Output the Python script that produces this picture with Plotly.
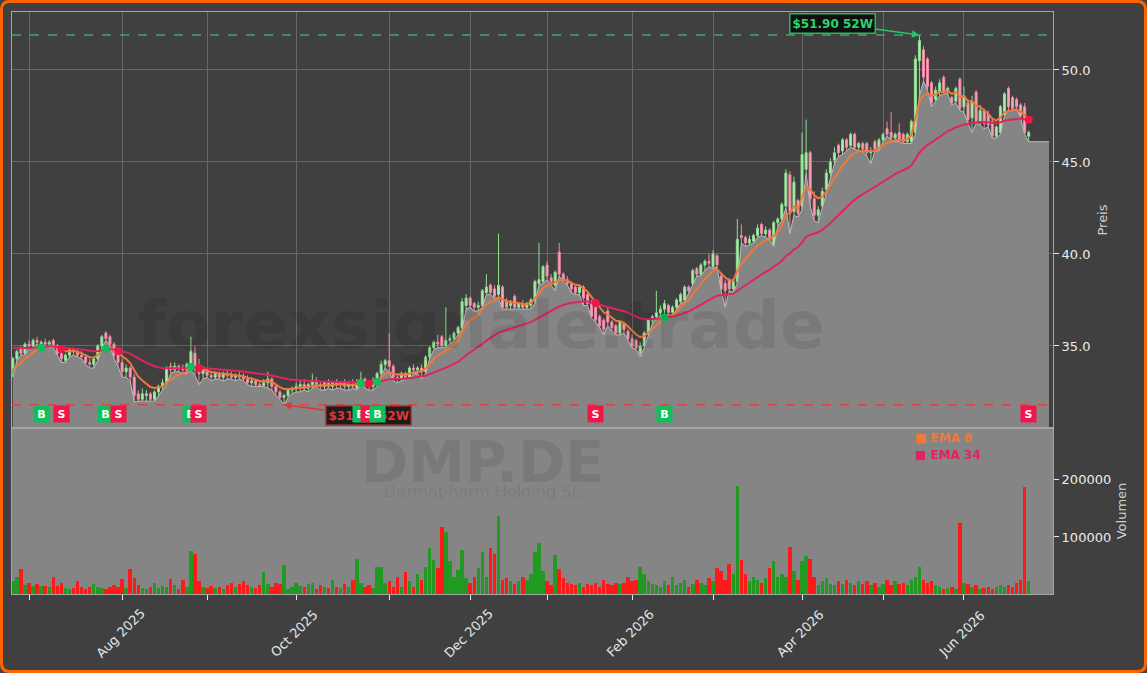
import plotly.graph_objects as go
import pandas as pd

# ---------------- data ----------------
START_DATE = "2025-06-25"
HOLIDAYS = ["2025-12-24", "2025-12-25", "2025-12-26", "2025-12-31",
            "2026-01-01", "2026-04-03", "2026-04-06", "2026-05-01"]

OPEN = [
    33.8, 34.3, 34.9, 34.6, 35.1, 35.0, 35.3, 35.0, 35.2, 35.1,
    35.3, 35.0, 34.6, 34.2, 34.5, 34.8, 34.7, 34.5, 34.4, 34.1,
    34.0, 34.3, 35.0, 35.7, 35.5, 35.1, 34.6, 34.1, 33.6, 33.8,
    33.3, 32.4, 32.1, 32.3, 32.4, 32.1, 32.5, 32.8, 33.0, 33.9,
    33.7, 33.9, 33.8, 33.7, 34.0, 34.6, 33.7, 33.5, 33.7, 33.4,
    33.3, 33.5, 33.3, 33.5, 33.4, 33.3, 33.4, 33.3, 33.2, 33.0,
    33.1, 32.9, 32.85, 33.0, 33.2, 32.8, 32.5, 32.2, 32.3, 32.6,
    32.7, 32.8, 32.9, 32.7, 32.9, 33.1, 32.9, 32.8, 33.0, 32.8,
    33.0, 32.9, 33.0, 32.8, 32.9, 32.7, 33.0, 33.2, 32.9, 32.8,
    33.0, 33.5, 34.0, 34.2, 33.9, 33.3, 33.2, 33.5, 33.3, 33.8,
    33.7, 33.8, 33.6, 34.4, 34.9, 35.2, 35.5, 35.0, 35.3, 35.4,
    35.7, 36.0, 37.2, 37.6, 37.3, 37.1, 37.2, 37.9, 38.3, 38.1,
    37.8, 38.2, 37.4, 37.2, 37.7, 37.1, 37.3, 37.1, 37.2, 37.5,
    38.4, 38.5, 39.4, 38.7, 38.3, 40.1, 38.9, 38.6, 38.4, 38.2,
    37.9, 38.2, 37.8, 37.3, 37.1, 36.6, 36.4, 36.9, 36.3, 36.1,
    35.7, 36.2, 35.8, 35.4, 35.3, 34.6, 35.0, 35.7, 36.4, 36.6,
    36.8, 37.0, 37.2, 36.8, 37.1, 37.4, 37.5, 38.2, 38.4, 39.2,
    38.9, 39.4, 39.6, 39.3, 39.9, 38.8, 38.4, 38.6, 38.1, 38.5,
    41.0, 40.9, 40.6, 40.7, 41.0, 41.6, 41.1, 41.3, 40.5, 41.7,
    41.9, 42.6, 44.3, 42.3, 42.9, 42.6, 44.6, 45.5, 43.0, 42.1,
    42.6, 43.5, 44.4, 45.1, 45.9, 45.6, 46.2, 45.9, 46.5, 45.8,
    46.0, 46.0, 45.5, 46.1, 45.7, 46.2, 46.8, 46.6, 46.3, 46.6,
    46.5, 46.1, 46.1, 46.6, 50.5, 51.1, 50.6, 49.3, 48.4, 48.8,
    49.6, 48.8, 48.5, 48.3, 49.5, 48.0, 48.2, 47.4, 48.8, 47.2,
    47.8, 47.6, 47.2, 46.4, 46.6, 47.6, 49.0, 48.5, 48.4, 48.1,
    48.0, 46.4,
]
HIGH = [
    34.4, 34.8, 35.0, 35.2, 35.3, 35.4, 35.5, 35.3, 35.4, 35.3,
    35.4, 35.1, 34.8, 34.6, 34.9, 34.9, 34.8, 34.7, 34.5, 34.3,
    34.4, 35.1, 35.6, 35.8, 35.6, 35.2, 34.7, 34.3, 34.0, 33.9,
    33.5, 32.6, 32.7, 32.6, 32.5, 32.6, 32.9, 33.2, 33.9, 34.1,
    34.1, 34.0, 34.0, 34.1, 35.5, 35.0, 34.3, 33.9, 33.8, 33.6,
    33.6, 33.6, 33.6, 33.7, 33.6, 33.5, 33.6, 33.5, 33.4, 33.3,
    33.2, 33.1, 33.2, 33.6, 33.3, 32.9, 32.6, 32.4, 32.7, 32.8,
    33.0, 33.1, 33.2, 33.0, 33.5, 33.3, 33.1, 33.1, 33.2, 33.1,
    33.2, 33.1, 33.2, 33.1, 33.2, 33.2, 33.6, 33.3, 33.0, 33.3,
    33.6, 34.2, 34.3, 35.7, 34.0, 33.5, 33.6, 33.6, 33.9, 34.0,
    33.9, 34.0, 34.5, 35.0, 35.3, 35.6, 35.6, 37.1, 35.6, 35.8,
    36.1, 37.6, 37.8, 37.7, 37.4, 37.4, 38.1, 38.9, 38.4, 38.3,
    41.1, 38.3, 37.6, 37.5, 37.8, 37.4, 37.5, 37.4, 37.6, 38.6,
    40.6, 39.4, 39.6, 38.9, 39.1, 40.6, 39.0, 38.8, 38.5, 38.3,
    38.3, 38.3, 37.9, 37.5, 37.2, 36.7, 36.5, 37.1, 36.4, 36.2,
    36.4, 36.3, 35.9, 35.6, 35.4, 35.2, 35.8, 36.5, 36.7, 38.0,
    37.2, 37.5, 37.3, 37.2, 37.6, 37.9, 38.3, 38.3, 39.2, 39.3,
    39.5, 39.7, 40.0, 40.2, 40.0, 38.9, 38.6, 38.7, 38.6, 41.9,
    41.6, 41.0, 41.0, 41.1, 41.6, 41.7, 41.5, 41.4, 41.8, 42.0,
    42.8, 44.6, 44.5, 44.2, 43.0, 46.6, 47.3, 45.6, 43.4, 42.6,
    43.6, 44.6, 45.2, 45.8, 46.0, 46.3, 46.3, 46.6, 46.6, 46.1,
    46.1, 46.1, 45.8, 46.2, 46.3, 46.6, 47.2, 47.7, 46.6, 47.1,
    46.6, 46.6, 47.3, 50.8, 51.9, 51.3, 50.7, 49.4, 49.1, 49.5,
    49.7, 49.1, 48.6, 49.1, 49.6, 49.1, 48.4, 48.6, 48.9, 48.1,
    47.9, 47.8, 47.3, 47.0, 48.1, 48.8, 49.1, 48.6, 48.5, 48.2,
    48.2, 46.7,
]
LOW = [
    33.3, 34.2, 34.5, 34.5, 34.9, 34.9, 35.1, 34.9, 35.0, 34.9,
    34.9, 34.5, 34.1, 34.1, 34.4, 34.5, 34.4, 34.3, 34.0, 33.8,
    33.8, 34.2, 34.9, 35.3, 35.0, 34.3, 33.9, 33.3, 33.3, 33.1,
    31.95, 32.0, 32.0, 32.0, 32.0, 32.0, 32.3, 32.6, 32.9, 33.5,
    33.6, 33.6, 33.5, 33.5, 33.7, 33.4, 32.9, 33.2, 33.3, 33.1,
    33.2, 33.2, 33.1, 33.2, 33.2, 33.1, 33.2, 33.1, 32.9, 32.8,
    32.8, 32.8, 32.8, 32.7, 32.6, 32.3, 32.1, 31.8, 32.2, 32.4,
    32.5, 32.5, 32.6, 32.5, 32.7, 32.8, 32.6, 32.6, 32.7, 32.6,
    32.7, 32.7, 32.6, 32.6, 32.7, 32.6, 32.9, 32.7, 32.6, 32.6,
    32.8, 33.4, 33.8, 33.6, 33.1, 33.0, 33.1, 33.2, 33.2, 33.5,
    33.5, 33.2, 33.5, 34.3, 34.8, 34.9, 34.9, 34.9, 35.1, 35.3,
    35.6, 35.9, 37.0, 37.1, 36.9, 36.9, 37.1, 37.8, 37.8, 37.6,
    37.6, 37.0, 37.0, 37.0, 37.0, 37.0, 37.0, 37.0, 37.0, 37.3,
    38.3, 38.4, 38.6, 38.3, 38.0, 38.8, 38.5, 38.3, 37.9, 37.8,
    37.8, 37.2, 37.2, 36.5, 36.3, 36.0, 35.6, 36.1, 35.8, 35.6,
    35.6, 35.7, 35.3, 34.9, 34.8, 34.4, 34.9, 35.6, 36.2, 36.5,
    36.6, 36.7, 36.7, 36.6, 37.0, 37.3, 37.4, 37.9, 38.3, 38.8,
    38.8, 39.1, 39.3, 39.2, 39.3, 38.0, 37.1, 38.0, 37.9, 38.4,
    40.6, 40.4, 40.5, 40.6, 40.9, 41.0, 40.9, 40.8, 40.4, 41.5,
    41.8, 42.5, 41.1, 42.1, 42.0, 42.4, 44.4, 42.6, 41.8, 41.7,
    42.5, 43.3, 44.2, 44.9, 45.3, 45.4, 45.6, 45.8, 45.7, 45.6,
    45.6, 45.3, 44.9, 45.6, 45.6, 46.1, 46.4, 46.2, 46.1, 46.1,
    46.0, 46.0, 46.0, 46.5, 48.6, 49.4, 48.9, 48.0, 48.3, 48.6,
    48.7, 48.7, 48.1, 48.2, 47.8, 47.7, 47.1, 46.6, 47.1, 47.0,
    46.8, 46.9, 46.3, 46.3, 46.5, 47.5, 47.8, 47.8, 47.9, 47.4,
    46.5, 46.1,
]
CLOSE = [
    34.3, 34.7, 34.6, 35.1, 35.0, 35.3, 35.2, 35.2, 35.1, 35.2,
    35.0, 34.6, 34.3, 34.5, 34.8, 34.7, 34.5, 34.4, 34.1, 34.0,
    34.3, 35.0, 35.5, 35.4, 35.1, 34.5, 34.1, 33.6, 33.8, 33.3,
    32.3, 32.1, 32.4, 32.4, 32.1, 32.5, 32.8, 33.0, 33.8, 33.7,
    33.9, 33.8, 33.7, 34.0, 34.7, 33.7, 33.5, 33.7, 33.4, 33.3,
    33.5, 33.3, 33.5, 33.4, 33.3, 33.4, 33.3, 33.2, 33.0, 33.1,
    32.9, 32.85, 33.0, 33.2, 32.8, 32.5, 32.2, 32.3, 32.6, 32.7,
    32.8, 32.9, 32.7, 32.9, 33.1, 32.9, 32.8, 33.0, 32.8, 33.0,
    32.9, 33.0, 32.8, 32.9, 32.8, 33.0, 33.2, 32.9, 32.8, 33.0,
    33.5, 34.0, 34.2, 33.9, 33.3, 33.2, 33.5, 33.3, 33.8, 33.7,
    33.8, 33.6, 34.4, 34.9, 35.2, 35.1, 35.0, 35.3, 35.4, 35.7,
    36.0, 37.4, 37.6, 37.2, 37.1, 37.2, 38.0, 38.2, 37.9, 37.7,
    38.3, 37.1, 37.1, 37.3, 37.1, 37.3, 37.1, 37.3, 37.5, 38.5,
    38.6, 39.3, 38.8, 38.5, 39.0, 38.9, 38.6, 38.4, 38.1, 37.9,
    38.2, 37.6, 37.3, 36.6, 36.4, 36.1, 35.9, 36.3, 36.0, 35.7,
    36.3, 35.9, 35.4, 35.0, 34.9, 35.0, 35.7, 36.4, 36.6, 36.8,
    37.0, 37.3, 36.8, 37.1, 37.5, 37.8, 38.2, 38.0, 39.1, 38.9,
    39.4, 39.6, 39.5, 40.0, 39.4, 38.1, 38.0, 38.1, 38.5, 40.8,
    40.9, 40.6, 40.8, 41.0, 41.4, 41.1, 41.3, 40.9, 41.7, 41.9,
    42.7, 44.4, 42.3, 43.9, 42.2, 45.4, 45.5, 43.0, 42.1, 42.4,
    43.4, 44.4, 45.0, 45.5, 45.5, 46.2, 45.8, 46.5, 45.8, 46.0,
    45.7, 45.5, 45.6, 45.7, 46.2, 46.5, 46.5, 46.3, 46.5, 46.2,
    46.1, 46.5, 47.2, 50.6, 51.6, 49.6, 49.1, 48.2, 48.9, 49.3,
    48.8, 49.0, 48.2, 49.0, 47.9, 48.6, 47.3, 48.3, 47.2, 47.8,
    47.1, 47.0, 46.4, 46.9, 48.0, 48.7, 48.0, 47.9, 48.0, 47.5,
    46.6, 46.6,
]
VOLUME_K = [
    22, 30, 43, 15, 20, 14, 18, 14, 14, 12,
    30, 14, 20, 10, 8, 10, 22, 12, 9, 12,
    18, 12, 10, 8, 12, 15, 12, 27, 10, 44,
    28, 15, 10, 8, 12, 20, 10, 14, 12, 27,
    15, 8, 24, 12, 75, 70, 22, 12, 10, 14,
    10, 12, 8, 15, 20, 12, 18, 22, 15, 12,
    10, 15, 39, 18, 12, 20, 18, 50, 8, 12,
    20, 14, 12, 18, 20, 8, 15, 12, 10, 25,
    12, 10, 18, 12, 25, 62, 20, 12, 15, 10,
    48, 48, 20, 22, 12, 30, 12, 38, 22, 12,
    35, 25, 48, 80, 60, 45, 118, 109, 57, 30,
    42, 78, 28, 20, 30, 45, 74, 30, 80, 70,
    136, 25, 28, 22, 18, 22, 30, 25, 35, 74,
    90, 40, 22, 15, 69, 43, 28, 20, 18, 15,
    20, 12, 18, 15, 20, 12, 25, 18, 15, 20,
    18, 20, 30, 22, 25, 48, 35, 22, 18, 15,
    12, 22, 15, 30, 15, 20, 25, 12, 18, 25,
    20, 15, 28, 22, 45, 40, 25, 53, 35, 190,
    60, 35, 22, 30, 25, 20, 28, 45, 58, 30,
    35, 30, 83, 40, 25, 58, 66, 62, 30, 15,
    22, 28, 18, 15, 22, 18, 25, 20, 15, 22,
    18, 22, 15, 20, 12, 18, 25, 15, 22, 18,
    20, 15, 25, 30, 48, 25, 20, 22, 15, 12,
    8, 10, 12, 8, 125, 20, 18, 12, 15, 8,
    10, 12, 8, 12, 15, 12, 15, 12, 20, 25,
    188, 22,
]
EMA8_START = 33.7
EMA34_START = 34.9
SIGNAL_IDX = [7, 12, 23, 26, 44, 46, 86, 88, 90, 144, 161, 251]
SIGNAL_TYPE = ["B", "S", "B", "S", "B", "S", "B", "S", "B", "S", "B", "S"]
SIGNAL_LEVEL = 31.3
TICKER = "DMP.DE"
COMPANY = "Dermapharm Holding SE"
WATERMARK = "forexsignale.trade"

N = len(CLOSE)
assert len(OPEN) == N and len(HIGH) == N and len(LOW) == N and len(VOLUME_K) == N

dates = [d for d in pd.bdate_range(START_DATE, "2026-07-31")
         if d.strftime("%Y-%m-%d") not in HOLIDAYS][:N]
X = list(range(N))
VOLUME = [v * 1000 for v in VOLUME_K]


def ema(vals, span, start):
    a = 2.0 / (span + 1)
    out = [start]
    for v in vals[1:]:
        out.append(out[-1] + a * (v - out[-1]))
    return out


EMA8 = ema(CLOSE, 8, EMA8_START)
EMA34 = ema(CLOSE, 34, EMA34_START)

month_ticks = [i for i in range(1, N) if dates[i].month != dates[i - 1].month]
label_ticks = [i for i in month_ticks if dates[i].month % 2 == 0]

# ---------------- styling ----------------
BG = "#404040"
GRAY = "#858585"
FONT = "DejaVu Sans"
C_EMA8 = "#f07838"
C_EMA34 = "#e0245e"
C_B = "#0fbf5a"
C_S = "#f0164a"
XR = [-0.2, 257]

# layout geometry (pixels -> paper)
L, R, T, B, W, H = 12, 94, 12, 79, 1147, 673
PW, PH = W - L - R, H - T - B


def pxx(p):
    return (p - L) / PW


def pxy(p):
    return (H - B - p) / PH


VOL_TOP = pxy(428)

fig = go.Figure()

# gray area under the lows
fig.add_trace(go.Scatter(
    x=X + [X[-1] + 5], y=LOW + [LOW[-1]], mode="lines", fill="tozeroy",
    fillcolor=GRAY, line=dict(color="#bdbdbd", width=1),
    hoverinfo="skip", showlegend=False, xaxis="x", yaxis="y"))

fig.add_trace(go.Candlestick(
    x=X, open=OPEN, high=HIGH, low=LOW, close=CLOSE,
    increasing=dict(line=dict(color="#8fdf8f", width=1), fillcolor="#b4f0b4"),
    decreasing=dict(line=dict(color="#f08aa5", width=1), fillcolor="#f7a8bc"),
    whiskerwidth=0, showlegend=False, hoverinfo="skip", xaxis="x", yaxis="y"))

fig.add_trace(go.Scatter(x=X, y=EMA8, mode="lines", line=dict(color=C_EMA8, width=2),
                         name="EMA 8", showlegend=False, xaxis="x", yaxis="y"))
fig.add_trace(go.Scatter(x=X, y=EMA34, mode="lines", line=dict(color=C_EMA34, width=2),
                         name="EMA 34", showlegend=False, xaxis="x", yaxis="y"))

# crossover dots
fig.add_trace(go.Scatter(
    x=SIGNAL_IDX, y=[(EMA8[i] + EMA34[i]) / 2 for i in SIGNAL_IDX], mode="markers",
    marker=dict(size=8, color=[C_B if t == "B" else C_S for t in SIGNAL_TYPE]),
    showlegend=False, hoverinfo="skip", xaxis="x", yaxis="y"))

# volume
fig.add_trace(go.Bar(
    x=X, y=VOLUME, width=0.85,
    marker=dict(color=["#229922" if c >= o else "#ff1a1a" for o, c in zip(OPEN, CLOSE)],
                line=dict(width=0)),
    showlegend=False, hoverinfo="skip", xaxis="x2", yaxis="y2"))

hi_val = max(HIGH)
hi_idx = HIGH.index(hi_val)
lo_val = min(LOW)
lo_idx = LOW.index(lo_val)

shapes = [
    dict(type="rect", xref="x2 domain", yref="y2 domain", x0=0, x1=1, y0=0, y1=1,
         fillcolor=GRAY, line=dict(width=0), layer="below"),
    dict(type="line", xref="x", yref="y", x0=XR[0], x1=XR[1], y0=hi_val, y1=hi_val,
         line=dict(color="#3ea866", width=1.5, dash="dash")),
    dict(type="line", xref="x", yref="y", x0=XR[0], x1=XR[1], y0=lo_val, y1=lo_val,
         line=dict(color="#d94343", width=1.5, dash="dash")),
]

# orange rounded frame
x0, x1, y0, y1, r = 1.5, W - 1.5, 1.5, H - 1.5, 8


def P(a, b):
    return f"{pxx(a)},{pxy(b)}"


path = (f"M {P(x0 + r, y0)} L {P(x1 - r, y0)} Q {P(x1, y0)} {P(x1, y0 + r)} "
        f"L {P(x1, y1 - r)} Q {P(x1, y1)} {P(x1 - r, y1)} L {P(x0 + r, y1)} "
        f"Q {P(x0, y1)} {P(x0, y1 - r)} L {P(x0, y0 + r)} Q {P(x0, y0)} {P(x0 + r, y0)} Z")
shapes.append(dict(type="path", xref="paper", yref="paper", path=path,
                   line=dict(color="#ff6400", width=3)))

ann = []
wm = "rgba(0,0,0,0.085)"
ann.append(dict(xref="paper", yref="paper", x=pxx(481), y=pxy(325), text=f"<b>{WATERMARK}</b>",
                xanchor="center", yanchor="middle",
                showarrow=False, font=dict(family=FONT, size=66, color=wm)))
ann.append(dict(xref="paper", yref="paper", x=pxx(482), y=pxy(462), text=f"<b>{TICKER}</b>",
                xanchor="center", yanchor="middle",
                showarrow=False, font=dict(family=FONT, size=57, color=wm)))
ann.append(dict(xref="paper", yref="paper", x=pxx(482), y=pxy(491), text=COMPANY,
                xanchor="center", yanchor="middle",
                showarrow=False, font=dict(family=FONT, size=16, color=wm)))

ann.append(dict(xref="x", yref="y", x=hi_idx, y=hi_val, text=f"<b>${hi_val:.2f} 52W</b>",
                showarrow=True, arrowhead=2, arrowsize=1, arrowwidth=1.5, arrowcolor="#2bc46a",
                ax=-87, ay=-12, font=dict(family=FONT, size=12, color="#2bd46e"),
                bgcolor="#101010", bordercolor="#2bb463", borderwidth=1.5, borderpad=2))
ann.append(dict(xref="x", yref="y", x=lo_idx, y=lo_val, text=f"<b>${lo_val:.2f} 52W</b>",
                showarrow=True, arrowhead=2, arrowsize=1, arrowwidth=1.5, arrowcolor="#e03535",
                ax=85, ay=11, font=dict(family=FONT, size=12, color="#e03535"),
                bgcolor="#1c1c1c", bordercolor="#c83030", borderwidth=1.5, borderpad=2))

for i, t in zip(SIGNAL_IDX, SIGNAL_TYPE):
    ann.append(dict(xref="x", yref="y", x=i, y=SIGNAL_LEVEL, text=f"<b>{t}</b>",
                    xanchor="center", yanchor="middle",
                    showarrow=False, width=13, height=14, bgcolor=C_B if t == "B" else C_S,
                    font=dict(family=FONT, size=11, color="white")))

ann.append(dict(xref="paper", yref="paper", x=pxx(913), y=pxy(438), xanchor="left",
                yanchor="middle", text="<b>■ EMA 8</b>", showarrow=False,
                font=dict(family=FONT, size=12, color=C_EMA8)))
ann.append(dict(xref="paper", yref="paper", x=pxx(913), y=pxy(455), xanchor="left",
                yanchor="middle", text="<b>■ EMA 34</b>", showarrow=False,
                font=dict(family=FONT, size=12, color=C_EMA34)))

for i in label_ticks:
    ann.append(dict(xref="x", yref="paper", x=i - 0.5, y=pxy(633),
                    xanchor="center", yanchor="middle",
                    text=dates[i].strftime("%b %Y"), textangle=-45, showarrow=False,
                    font=dict(family=FONT, size=13, color="#e6e6e6")))

axis_common = dict(showline=True, linecolor="#a6a6a6", linewidth=1, mirror=True,
                   zeroline=False)
fig.update_layout(
    width=W, height=H, autosize=False,
    margin=dict(l=L, r=R, t=T, b=B),
    paper_bgcolor=BG, plot_bgcolor=BG,
    font=dict(family=FONT, color="#e6e6e6"),
    showlegend=False,
    xaxis=dict(domain=[0, 1], anchor="y", range=XR, tickvals=month_ticks,
               showticklabels=False, ticks="", showgrid=True, gridcolor="#686868",
               gridwidth=1, rangeslider=dict(visible=False), **axis_common),
    yaxis=dict(domain=[VOL_TOP, 1], anchor="x", range=[30.54, 53.15], side="right",
               tickvals=[35, 40, 45, 50], ticktext=["35.0", "40.0", "45.0", "50.0"],
               ticks="outside", ticklen=5, tickcolor="#e6e6e6",
               tickfont=dict(size=13, color="#ececec"), showgrid=True, gridcolor="#686868",
               title=dict(text="Preis", font=dict(size=13, color="#d0d0d0"), standoff=8),
               automargin=False, **axis_common),
    xaxis2=dict(domain=[0, 1], anchor="y2", range=XR, matches="x", tickvals=month_ticks,
                ticktext=[""] * len(month_ticks), ticks="outside", ticklen=5,
                tickcolor="#e6e6e6", showgrid=False, **axis_common),
    yaxis2=dict(domain=[0, VOL_TOP], anchor="x2", range=[0, 291000], side="right",
                tickvals=[100000, 200000], ticktext=["100000", "200000"],
                ticks="outside", ticklen=5, tickcolor="#e6e6e6",
                tickfont=dict(size=13, color="#ececec"), showgrid=False,
                title=dict(text="Volumen", font=dict(size=13, color="#d0d0d0"), standoff=6),
                automargin=False, **axis_common),
    bargap=0,
    shapes=shapes,
    annotations=ann,
)

fig.write_html("out.html")
